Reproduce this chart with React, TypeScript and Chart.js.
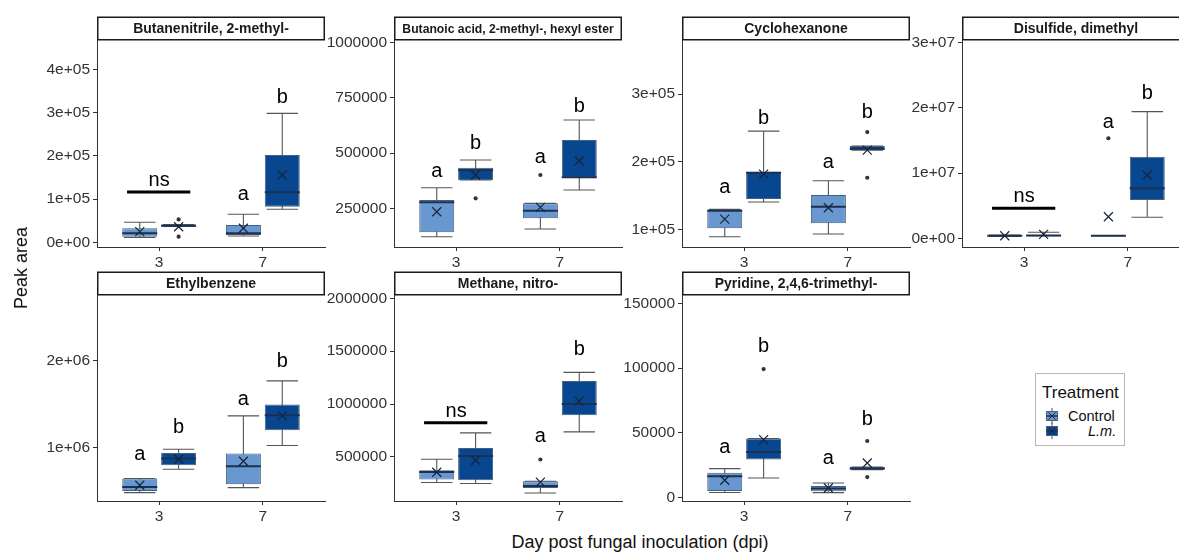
import React, { useEffect, useRef } from "react";
import { Chart, registerables } from "chart.js";

Chart.register(...registerables);

// ---------------- DATA ----------------
const days = ["3", "7"];
const treatments = ["Control", "L.m."];

// stats per day: [lowerWhisker, q1, median, q3, upperWhisker, mean]
const butanenitrileControl = [[11000, 13000, 20800, 32400, 46200, 24500], [14600, 16900, 20800, 40000, 64700, 32400]];
const butanenitrileLm = [[36500, 36500, 38500, 41000, 41000, 36000], [76300, 82300, 115600, 201800, 298300, 155600]];
const butanenitrileOutControl = [[], []];
const butanenitrileOutLm = [[53000, 13000], []];
// [dayIndex, group (-1 = both), label, baselineValue, lineValue]
const butanenitrileSig = [[0, -1, "ns", 130900, 116300], [1, 0, "a", 97800], [1, 1, "b", 322800]];
const butanenitrileTicks = [0, 100000, 200000, 300000, 400000];
const butanenitrileTickLabels = ["0e+00", "1e+05", "2e+05", "3e+05", "4e+05"];
const butanenitrileRange = [-10900, 468000];

const butanoicControl = [[121400, 141300, 277200, 287600, 343300, 234600], [156300, 204700, 239100, 272600, 272600, 254500]];
const butanoicLm = [[378200, 378200, 422100, 433900, 468700, 400800], [332900, 388600, 391000, 559300, 650000, 464200]];
const butanoicOutControl = [[], [400800]];
const butanoicOutLm = [[295300], []];
const butanoicSig = [[0, 0, "a", 393100], [0, 1, "b", 518600], [1, 0, "a", 453800], [1, 1, "b", 687500]];
const butanoicTicks = [250000, 500000, 750000, 1000000];
const butanoicTickLabels = ["250000", "500000", "750000", "1000000"];
const butanoicRange = [75000, 1012000];

const cyclohexanoneControl = [[89100, 101500, 127500, 129500, 129500, 115200], [93100, 108900, 133400, 150700, 171800, 131900]];
const cyclohexanoneLm = [[140300, 144800, 183600, 185100, 245200, 181700], [217100, 217100, 219000, 223000, 223000, 217100]];
const cyclohexanoneOutControl = [[], []];
const cyclohexanoneOutLm = [[], [243700, 176200]];
const cyclohexanoneSig = [[0, 0, "a", 153200], [0, 1, "b", 255500], [1, 0, "a", 190100], [1, 1, "b", 264000]];
const cyclohexanoneTicks = [100000, 200000, 300000];
const cyclohexanoneTickLabels = ["1e+05", "2e+05", "3e+05"];
const cyclohexanoneRange = [73900, 379800];

const disulfideControl = [[300000, 350000, 400000, 450000, 500000, 400000], [400000, 400000, 400000, 400000, 400000, 3313000]];
const disulfideLm = [[400000, 400000, 450000, 550000, 920000, 613000], [3220000, 5875000, 7670000, 12520000, 19420000, 9710000]];
const disulfideOutControl = [[], [15340000]];
const disulfideOutLm = [[], []];
const disulfideSig = [[0, -1, "ns", 5615000, 4600000], [1, 0, "a", 16970000], [1, 1, "b", 21320000]];
const disulfideTicks = [0, 10000000, 20000000, 30000000];
const disulfideTickLabels = ["0e+00", "1e+07", "2e+07", "3e+07"];
const disulfideRange = [-1330000, 30400000];

const ethylbenzeneControl = [[481000, 499400, 545600, 642500, 642500, 565200], [538600, 576700, 784300, 930800, 1364500, 842000]];
const ethylbenzeneLm = [[749700, 795800, 873000, 937700, 980400, 865000], [1023000, 1199500, 1372500, 1496000, 1768000, 1364500]];
const ethylbenzeneOutControl = [[], []];
const ethylbenzeneOutLm = [[], []];
const ethylbenzeneSig = [[0, 0, "a", 853500], [0, 1, "b", 1168400], [1, 0, "a", 1487900], [1, 1, "b", 1929600]];
const ethylbenzeneTicks = [1000000, 2000000];
const ethylbenzeneTickLabels = ["1e+06", "2e+06"];
const ethylbenzeneRange = [384000, 2758000];

const nitromethaneControl = [[257600, 286000, 358000, 374100, 478200, 355100], [159100, 206500, 225400, 269900, 269900, 262000]];
const nitromethaneLm = [[248100, 279400, 509500, 585200, 727300, 468800], [736800, 894900, 999100, 1216900, 1299300, 1027500]];
const nitromethaneOutControl = [[], [475400]];
const nitromethaneOutLm = [[], []];
const nitromethaneSig = [[0, -1, "ns", 878800, 822000], [1, 0, "a", 642100], [1, 1, "b", 1463100]];
const nitromethaneTicks = [500000, 1000000, 1500000, 2000000];
const nitromethaneTickLabels = ["500000", "1000000", "1500000", "2000000"];
const nitromethaneRange = [83000, 2031000];

const pyridineControl = [[4000, 5100, 16500, 19300, 22400, 13400], [3900, 4900, 7000, 9000, 11300, 7400]];
const pyridineLm = [[15100, 29400, 35200, 45600, 45600, 44800], [21600, 21600, 22500, 23600, 23600, 26700]];
const pyridineOutControl = [[], []];
const pyridineOutLm = [[99200], [43700, 15900]];
const pyridineSig = [[0, 0, "a", 34500], [0, 1, "b", 112500], [1, 0, "a", 26300], [1, 1, "b", 55900]];
const pyridineTicks = [0, 50000, 100000, 150000];
const pyridineTickLabels = ["0", "50000", "100000", "150000"];
const pyridineRange = [-2600, 156400];

// ---------------- STYLE / LAYOUT ----------------
const FONT = "'Liberation Sans', Arial, Helvetica, sans-serif";
const CONTROL_FILL = "#6898cf";
const LM_FILL = "#08468f";
const BOX_BORDER = "#45607f";
const WHISKER = "#555555";
const MEDIAN = "#1b3150";
const MEAN = "#17253a";
const AXIS = "#333333";
const TICK_TEXT = "#333333";

const Y_W = 80;
const X_H = 30;
const STRIP_H = 24;
const PLOT_W = 228;
const RIGHT_PAD = 2;

const rows = [
  { stripTop: 16, plotH: 207 },
  { stripTop: 271, plotH: 206 },
];

const panels = [
  { title: "Butanenitrile, 2-methyl-", titleSize: 14, ctrl: butanenitrileControl, lm: butanenitrileLm, outCtrl: butanenitrileOutControl, outLm: butanenitrileOutLm, sig: butanenitrileSig, ticks: butanenitrileTicks, tickLabels: butanenitrileTickLabels, range: butanenitrileRange, left: 97, row: 0 },
  { title: "Butanoic acid, 2-methyl-, hexyl ester", titleSize: 12.2, ctrl: butanoicControl, lm: butanoicLm, outCtrl: butanoicOutControl, outLm: butanoicOutLm, sig: butanoicSig, ticks: butanoicTicks, tickLabels: butanoicTickLabels, range: butanoicRange, left: 394, row: 0 },
  { title: "Cyclohexanone", titleSize: 14, ctrl: cyclohexanoneControl, lm: cyclohexanoneLm, outCtrl: cyclohexanoneOutControl, outLm: cyclohexanoneOutLm, sig: cyclohexanoneSig, ticks: cyclohexanoneTicks, tickLabels: cyclohexanoneTickLabels, range: cyclohexanoneRange, left: 682, row: 0 },
  { title: "Disulfide, dimethyl", titleSize: 14, ctrl: disulfideControl, lm: disulfideLm, outCtrl: disulfideOutControl, outLm: disulfideOutLm, sig: disulfideSig, ticks: disulfideTicks, tickLabels: disulfideTickLabels, range: disulfideRange, left: 962, row: 0 },
  { title: "Ethylbenzene", titleSize: 14, ctrl: ethylbenzeneControl, lm: ethylbenzeneLm, outCtrl: ethylbenzeneOutControl, outLm: ethylbenzeneOutLm, sig: ethylbenzeneSig, ticks: ethylbenzeneTicks, tickLabels: ethylbenzeneTickLabels, range: ethylbenzeneRange, left: 97, row: 1 },
  { title: "Methane, nitro-", titleSize: 14, ctrl: nitromethaneControl, lm: nitromethaneLm, outCtrl: nitromethaneOutControl, outLm: nitromethaneOutLm, sig: nitromethaneSig, ticks: nitromethaneTicks, tickLabels: nitromethaneTickLabels, range: nitromethaneRange, left: 394, row: 1 },
  { title: "Pyridine, 2,4,6-trimethyl-", titleSize: 14, ctrl: pyridineControl, lm: pyridineLm, outCtrl: pyridineOutControl, outLm: pyridineOutLm, sig: pyridineSig, ticks: pyridineTicks, tickLabels: pyridineTickLabels, range: pyridineRange, left: 682, row: 1 },
];

// ---------------- PLUGINS ----------------
const boxPlugin = {
  id: "boxplotExtras",
  beforeDatasetsDraw(chart: any) {
    const { ctx } = chart;
    const y = chart.scales.y;
    chart.data.datasets.forEach((ds: any, di: number) => {
      const meta = chart.getDatasetMeta(di);
      meta.data.forEach((bar: any, i: number) => {
        const [lo, , , , hi] = ds.stats[i];
        const cx = bar.x;
        const capHalf = (bar.width / 2) * 0.9;
        ctx.save();
        ctx.strokeStyle = WHISKER;
        ctx.lineWidth = 1.1;
        ctx.beginPath();
        ctx.moveTo(cx, y.getPixelForValue(lo));
        ctx.lineTo(cx, y.getPixelForValue(hi));
        [lo, hi].forEach((v) => {
          const py = y.getPixelForValue(v);
          ctx.moveTo(cx - capHalf, py);
          ctx.lineTo(cx + capHalf, py);
        });
        ctx.stroke();
        ctx.restore();
      });
    });
  },
  afterDatasetsDraw(chart: any) {
    const { ctx } = chart;
    const y = chart.scales.y;
    chart.data.datasets.forEach((ds: any, di: number) => {
      const meta = chart.getDatasetMeta(di);
      meta.data.forEach((bar: any, i: number) => {
        const [, , med, , , mean] = ds.stats[i];
        const cx = bar.x;
        const half = bar.width / 2;
        ctx.save();
        // median
        ctx.strokeStyle = MEDIAN;
        ctx.lineWidth = 2;
        const pm = y.getPixelForValue(med);
        ctx.beginPath();
        ctx.moveTo(cx - half, pm);
        ctx.lineTo(cx + half, pm);
        ctx.stroke();
        // mean (x)
        const pmean = y.getPixelForValue(mean);
        const s = 4.5;
        ctx.strokeStyle = MEAN;
        ctx.lineWidth = 1.2;
        ctx.beginPath();
        ctx.moveTo(cx - s, pmean - s);
        ctx.lineTo(cx + s, pmean + s);
        ctx.moveTo(cx - s, pmean + s);
        ctx.lineTo(cx + s, pmean - s);
        ctx.stroke();
        // outliers
        ctx.fillStyle = "#333333";
        (ds.outliers[i] || []).forEach((v: number) => {
          ctx.beginPath();
          ctx.arc(cx, y.getPixelForValue(v), 2.1, 0, Math.PI * 2);
          ctx.fill();
        });
        ctx.restore();
      });
    });
  },
  afterDraw(chart: any) {
    const { ctx, chartArea } = chart;
    const x = chart.scales.x;
    const y = chart.scales.y;
    const opts = chart.options.plugins.boxplotExtras;
    // significance letters
    ctx.save();
    ctx.fillStyle = "#000000";
    ctx.font = `20px ${FONT}`;
    ctx.textAlign = "center";
    ctx.textBaseline = "alphabetic";
    (opts.sig || []).forEach((s: any[]) => {
      const [dayIdx, grp, label, yb, lineV] = s;
      let cx: number;
      if (grp === -1) {
        cx = x.getPixelForValue(dayIdx + 1);
        const ly = y.getPixelForValue(lineV);
        ctx.strokeStyle = "#000000";
        ctx.lineWidth = 3;
        ctx.beginPath();
        ctx.moveTo(x.getPixelForValue(dayIdx + 1 - 0.31), ly);
        ctx.lineTo(x.getPixelForValue(dayIdx + 1 + 0.3), ly);
        ctx.stroke();
      } else {
        cx = chart.getDatasetMeta(grp).data[dayIdx].x;
      }
      ctx.fillText(label, cx, y.getPixelForValue(yb));
    });
    // strip
    const l = chartArea.left;
    const r = chartArea.right;
    ctx.fillStyle = "#ffffff";
    ctx.fillRect(l, 1, r - l, STRIP_H - 1);
    ctx.strokeStyle = "#1a1a1a";
    ctx.lineWidth = 1.5;
    ctx.strokeRect(l + 0.75, 1.25, r - l - 1.5, STRIP_H - 1.5);
    ctx.fillStyle = "#1a1a1a";
    ctx.font = `bold ${opts.titleSize}px ${FONT}`;
    ctx.textBaseline = "middle";
    ctx.fillText(opts.title, (l + r) / 2, STRIP_H / 2 + 1.5);
    ctx.restore();
  },
};

function makeConfig(p: any): any {
  const toBars = (stats: number[][]) => stats.map((s, i) => ({ x: i + 1, y: [s[1], s[3]] }));
  const tickFont = { family: FONT, size: 15.5 };
  return {
    type: "bar",
    data: {
      datasets: [
        {
          label: treatments[0],
          data: toBars(p.ctrl),
          stats: p.ctrl,
          outliers: p.outCtrl,
          backgroundColor: CONTROL_FILL,
          borderColor: BOX_BORDER,
          borderWidth: 1,
          borderSkipped: false,
          categoryPercentage: 0.75,
          barPercentage: 0.9,
        },
        {
          label: treatments[1],
          data: toBars(p.lm),
          stats: p.lm,
          outliers: p.outLm,
          backgroundColor: LM_FILL,
          borderColor: BOX_BORDER,
          borderWidth: 1,
          borderSkipped: false,
          categoryPercentage: 0.75,
          barPercentage: 0.9,
        },
      ],
    },
    options: {
      animation: false,
      responsive: false,
      devicePixelRatio: 1,
      events: [],
      layout: { padding: { top: STRIP_H, right: RIGHT_PAD, left: 0, bottom: 0 } },
      plugins: {
        legend: { display: false },
        tooltip: { enabled: false },
        title: { display: false },
        boxplotExtras: { sig: p.sig, title: p.title, titleSize: p.titleSize },
      },
      scales: {
        x: {
          type: "linear",
          min: 0.4,
          max: 2.6,
          offset: false,
          afterBuildTicks: (s: any) => {
            s.ticks = days.map((_, i) => ({ value: i + 1 }));
          },
          afterFit: (s: any) => {
            s.height = X_H;
          },
          ticks: {
            callback: (_v: any, i: number) => days[i],
            font: tickFont,
            color: TICK_TEXT,
            padding: 2,
            autoSkip: false,
            maxRotation: 0,
          },
          grid: { display: true, drawOnChartArea: false, drawTicks: true, tickLength: 4, color: AXIS, offset: false },
          border: { display: true, color: AXIS, width: 1 },
        },
        y: {
          type: "linear",
          min: p.range[0],
          max: p.range[1],
          afterBuildTicks: (s: any) => {
            s.ticks = p.ticks.map((v: number) => ({ value: v }));
          },
          afterFit: (s: any) => {
            s.width = Y_W;
          },
          ticks: {
            callback: (_v: any, i: number) => p.tickLabels[i],
            font: tickFont,
            color: TICK_TEXT,
            padding: 3,
            autoSkip: false,
          },
          grid: { display: true, drawOnChartArea: false, drawTicks: true, tickLength: 4, color: AXIS },
          border: { display: true, color: AXIS, width: 1 },
        },
      },
    },
    plugins: [boxPlugin],
  };
}

function Panel({ p }: { p: any }) {
  const ref = useRef<HTMLCanvasElement>(null);
  const row = rows[p.row];
  const width = Y_W + PLOT_W + RIGHT_PAD;
  const height = STRIP_H + row.plotH + X_H;
  useEffect(() => {
    const chart = new Chart(ref.current as HTMLCanvasElement, makeConfig(p));
    return () => chart.destroy();
  }, []);
  return (
    <canvas
      ref={ref}
      width={width}
      height={height}
      style={{ position: "absolute", left: p.left - Y_W, top: row.stripTop, width, height }}
    />
  );
}

function LegendKey({ fill, top }: { fill: string; top: number }) {
  return (
    <svg width={14} height={16} style={{ position: "absolute", left: 9, top }}>
      <line x1={7} y1={0} x2={7} y2={16} stroke={WHISKER} strokeWidth={1} />
      <rect x={1.5} y={3.5} width={11} height={9} fill={fill} stroke={BOX_BORDER} strokeWidth={1} />
      <line x1={1.5} y1={8} x2={12.5} y2={8} stroke={MEDIAN} strokeWidth={1.5} />
      <line x1={3.5} y1={4.5} x2={10.5} y2={11.5} stroke={MEAN} strokeWidth={1} />
      <line x1={3.5} y1={11.5} x2={10.5} y2={4.5} stroke={MEAN} strokeWidth={1} />
    </svg>
  );
}

export default function App() {
  return (
    <div
      style={{
        position: "fixed",
        left: 0,
        top: 0,
        width: 1179,
        height: 554,
        overflow: "hidden",
        background: "#ffffff",
        fontFamily: FONT,
      }}
    >
      {panels.map((p) => (
        <Panel key={p.title} p={p} />
      ))}
      <div
        style={{
          position: "absolute",
          left: 21,
          top: 268,
          transform: "translate(-50%, -50%) rotate(-90deg)",
          fontSize: 18,
          color: "#111",
          whiteSpace: "nowrap",
          lineHeight: "18px",
        }}
      >
        Peak area
      </div>
      <div
        style={{
          position: "absolute",
          left: 640,
          top: 532,
          transform: "translateX(-50%)",
          fontSize: 18,
          color: "#111",
          whiteSpace: "nowrap",
          lineHeight: "20px",
        }}
      >
        Day post fungal inoculation (dpi)
      </div>
      <div
        style={{
          position: "absolute",
          left: 1035,
          top: 373,
          width: 90,
          height: 73,
          border: "1px solid #b8b8b8",
          boxSizing: "border-box",
          color: "#111",
        }}
      >
        <div style={{ position: "absolute", left: 6, top: 10, fontSize: 17, lineHeight: "17px", whiteSpace: "nowrap" }}>
          Treatment
        </div>
        <LegendKey fill={CONTROL_FILL} top={34} />
        <div style={{ position: "absolute", left: 32, top: 35, fontSize: 14.5, lineHeight: "15px", whiteSpace: "nowrap" }}>
          {treatments[0]}
        </div>
        <LegendKey fill={LM_FILL} top={49} />
        <div
          style={{
            position: "absolute",
            left: 52,
            top: 50,
            fontSize: 14.5,
            lineHeight: "15px",
            fontStyle: "italic",
            whiteSpace: "nowrap",
          }}
        >
          {treatments[1]}
        </div>
      </div>
    </div>
  );
}
